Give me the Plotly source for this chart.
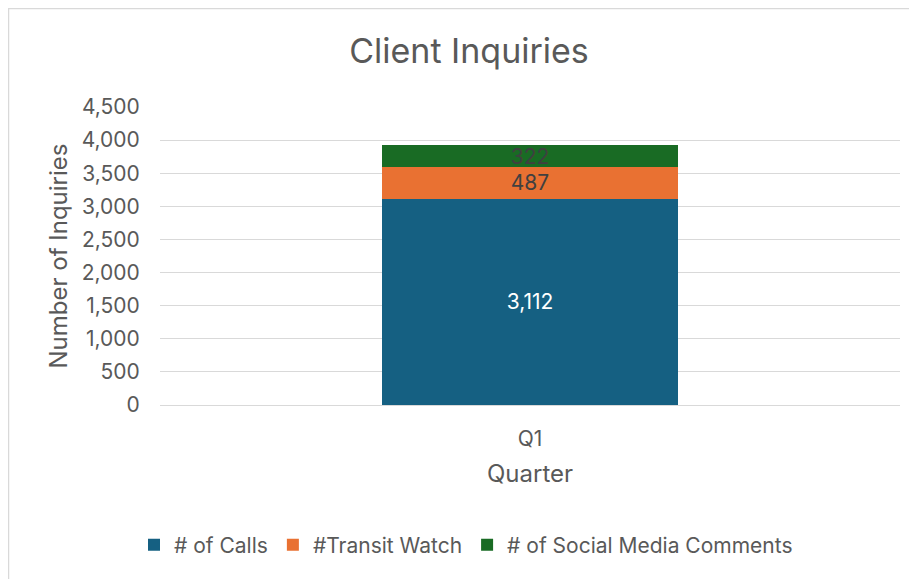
import plotly.graph_objects as go

categories = ["Q1"]
calls = [3112]
transit_watch = [487]
social_media = [322]
series_names = ["# of Calls", "#Transit Watch", "# of Social Media Comments"]
y_ticks = [0, 500, 1000, 1500, 2000, 2500, 3000, 3500, 4000, 4500]

FONT = "Inter"
GRAY = "#595959"
colors = ["#156082", "#E97132", "#196B24"]
text_colors = ["#FFFFFF", "#404040", "#404040"]

fig = go.Figure()
for name, vals, col, tcol in zip(series_names, [calls, transit_watch, social_media], colors, text_colors):
    fig.add_trace(go.Bar(
        x=categories, y=vals, name=name,
        marker=dict(color=col, line=dict(width=0)),
        text=[f"{v:,}" for v in vals],
        textposition="inside", insidetextanchor="middle",
        constraintext="none",
        textfont=dict(family=FONT, size=21, color=tcol),
        hoverinfo="skip",
    ))

OFF = 8  # page offset of the figure in the screenshot
W, H = 917, 579
L, R, T, B = 160 - OFF, 17 + OFF, 107 - OFF, 174 + OFF
pw, ph = W - L - R, H - T - B

def px_x(p):
    return (p - OFF - L) / pw

def px_y(p):
    return (H - B - (p - OFF)) / ph

fig.update_layout(
    barmode="stack",
    bargap=0.6,
    width=W, height=H,
    margin=dict(l=L, r=R, t=T, b=B),
    paper_bgcolor="white", plot_bgcolor="white",
    font=dict(family=FONT, color=GRAY),
    title=dict(text="Client Inquiries", x=(469 - OFF) / W, xref="container", xanchor="center",
               y=1 - (51 - OFF) / H, yanchor="middle", yref="container",
               font=dict(family=FONT, size=34, color=GRAY)),
    xaxis=dict(
        title=dict(text="Quarter", font=dict(family=FONT, size=24, color=GRAY), standoff=14),
        tickfont=dict(family=FONT, size=21, color=GRAY),
        showgrid=False, showline=False, ticks="outside", ticklen=15, tickcolor="white",
    ),
    yaxis=dict(
        title=dict(text="Number of Inquiries", font=dict(family=FONT, size=24, color=GRAY), standoff=7),
        range=[0, 4500], tickvals=y_ticks, tickformat=",d",
        tickfont=dict(family=FONT, size=21, color=GRAY),
        showgrid=True, gridcolor="#D9D9D9", gridwidth=1.3,
        zeroline=True, zerolinecolor="#D9D9D9", zerolinewidth=1.3,
        showline=False, ticks="outside", ticklen=15, tickcolor="white",
    ),
    legend=dict(orientation="h", x=px_x(466), xanchor="center", y=px_y(545), yanchor="middle",
                font=dict(family=FONT, size=21, color=GRAY), traceorder="normal",
                itemwidth=30),
    showlegend=True,
    shapes=[
        dict(type="rect", xref="paper", yref="paper",
             x0=px_x(8.5), x1=px_x(W + 40), y0=px_y(H + 40), y1=px_y(8.5),
             line=dict(color="#D9D9D9", width=1.5), fillcolor="rgba(0,0,0,0)", layer="below"),
    ],
)

fig.write_html("out.html")
